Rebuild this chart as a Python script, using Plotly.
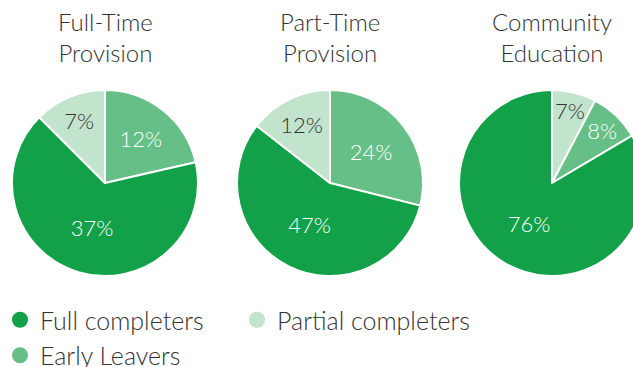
import plotly.graph_objects as go

# Data
categories = ["Full completers", "Partial completers", "Early Leavers"]
pie_titles = ["Full-Time<br>Provision", "Part-Time<br>Provision", "Community<br>Education"]
fulltime_labels = ["Early Leavers", "Full completers", "Partial completers"]
fulltime_values = [12, 37, 7]
parttime_labels = ["Early Leavers", "Full completers", "Partial completers"]
parttime_values = [24, 47, 12]
community_labels = ["Partial completers", "Early Leavers", "Full completers"]
community_values = [7, 8, 76]

colors = {"Full completers": "#12a049", "Partial completers": "#c2e3cc", "Early Leavers": "#66bf86"}
text_colors = {"Full completers": "#ffffff", "Partial completers": "#333333", "Early Leavers": "#ffffff"}

FONT = "Lato, 'Open Sans', sans-serif"
W, H = 650, 367

fig = go.Figure()

pies = [(fulltime_labels, fulltime_values), (parttime_labels, parttime_values), (community_labels, community_values)]
centers_px = [105, 330, 552]
radius_px = 93
cy_px = 183
for (labels, values), cx in zip(pies, centers_px):
    fig.add_trace(go.Pie(
        labels=labels, values=values, sort=False, direction="clockwise", rotation=0,
        marker=dict(colors=[colors[l] for l in labels], line=dict(color="white", width=2)),
        texttemplate="%{value}%", textinfo="none", textposition="inside",
        insidetextorientation="horizontal",
        textfont=dict(family=FONT, size=22, weight=300, color=[text_colors[l] for l in labels]),
        showlegend=False, hoverinfo="label+value",
        domain=dict(x=[(cx - radius_px) / W, (cx + radius_px) / W],
                    y=[1 - (cy_px + radius_px) / H, 1 - (cy_px - radius_px) / H]),
    ))

for cat in categories:
    fig.add_trace(go.Scatter(x=[None], y=[None], mode="markers", name=cat,
                             marker=dict(color=colors[cat], size=20, symbol="circle")))

for t, cx in zip(pie_titles, centers_px):
    fig.add_annotation(text=t, x=cx / W, y=1 - 37 / H, xref="paper", yref="paper",
                       xanchor="center", yanchor="middle", showarrow=False,
                       font=dict(family=FONT, size=24, weight=300, color="#333333"))

fig.update_layout(
    width=W, height=H, margin=dict(l=0, r=0, t=0, b=0, autoexpand=False),
    paper_bgcolor="white", plot_bgcolor="white",
    xaxis=dict(visible=False), yaxis=dict(visible=False),
    uniformtext=dict(minsize=22, mode="show"),
    legend=dict(orientation="h", x=0, xanchor="left", y=1 - 297 / H, yanchor="top",
                font=dict(family=FONT, size=25, weight=300, color="#333333"), traceorder="normal",
                itemsizing="trace", entrywidth=192, tracegroupgap=0),
)

fig.write_html("out.html", config={"displayModeBar": False},
               post_script="document.body.style.overflow='hidden';document.body.style.margin='0';")
